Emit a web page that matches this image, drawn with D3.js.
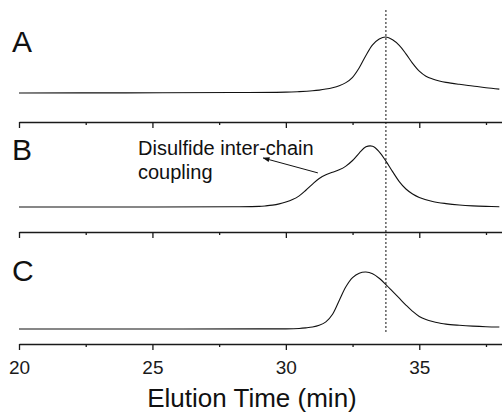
<!DOCTYPE html>
<html lang="en">
<head>
<meta charset="UTF-8">
<title>Elution profiles</title>
<script src="https://d3js.org/d3.v7.min.js"></script>
<style>
  body { margin: 0; background: #fff; }
  svg { display: block; font-family: "Liberation Sans", Arial, sans-serif; }
  .axis path, .axis line { stroke: #1a1a1a; stroke-width: 1.3px; }
  .axis text { font-size: 19px; fill: #1a1a1a; }
  .trace { fill: none; stroke: #111; stroke-width: 1.1px; }
</style>
</head>
<body>
<div id="chart"></div>
<script>
// elution time (min) and normalised detector signal for each trace
const timeA = [20, 24, 28, 30, 30.5, 31, 31.25, 31.5, 31.75, 32, 32.25, 32.5, 32.75, 33, 33.25, 33.5, 33.75,
  34, 34.25, 34.5, 34.75, 35, 35.25, 35.5, 35.75, 36, 36.5, 37, 37.5, 38];
const signalA = [0, 0.003, 0.008, 0.015, 0.025, 0.04, 0.052, 0.07, 0.095, 0.13, 0.185, 0.28, 0.45, 0.67, 0.86, 0.965, 1.0,
  0.95, 0.85, 0.70, 0.53, 0.39, 0.30, 0.25, 0.215, 0.19, 0.155, 0.125, 0.095, 0.07];

const timeB = [20, 25, 28, 29, 29.25, 29.5, 29.75, 30, 30.25, 30.5, 30.75, 31, 31.25, 31.5, 31.75, 32, 32.25, 32.5, 32.75,
  33, 33.25, 33.5, 33.75, 34, 34.25, 34.5, 34.75, 35, 35.5, 36, 36.5, 37, 37.5, 38];
const signalB = [0, 0, 0.004, 0.01, 0.018, 0.03, 0.05, 0.08, 0.12, 0.18, 0.27, 0.37, 0.46, 0.52, 0.56, 0.6, 0.66, 0.75, 0.87,
  0.97, 0.98, 0.89, 0.74, 0.57, 0.41, 0.29, 0.21, 0.155, 0.09, 0.055, 0.032, 0.018, 0.01, 0.005];

const timeC = [20, 25, 29, 30, 30.5, 30.75, 31, 31.25, 31.5, 31.75, 32, 32.25, 32.5, 32.75, 33, 33.25, 33.5, 33.75,
  34, 34.25, 34.5, 34.75, 35, 35.25, 35.5, 35.75, 36, 36.5, 37, 37.5, 38];
const signalC = [0, 0, 0.002, 0.003, 0.01, 0.02, 0.035, 0.065, 0.125, 0.26, 0.5, 0.74, 0.9, 0.98, 1.0, 0.97, 0.89, 0.78,
  0.66, 0.54, 0.42, 0.31, 0.22, 0.165, 0.13, 0.105, 0.085, 0.065, 0.05, 0.04, 0.035];

const panelLabels = ['A', 'B', 'C'];
const majorTicks = [20, 25, 30, 35];
const minorTicks = [22.5, 27.5, 32.5, 37.5];
const markerTime = 33.75;
const annotationLines = ['Disulfide inter-chain', 'coupling'];
const annotationArrow = { from: [31.2, 0.55], to: [29.15, 0.79] }; // time, signal in panel B

const width = 502, height = 412;

const svg = d3.select('#chart').append('svg')
  .attr('width', width)
  .attr('height', height);

const x = d3.scaleLinear().domain([20, 38.1]).range([19, 502]);

// each panel: baseline pixel, peak pixel, axis pixel, label baseline
const panels = [
  { t: timeA, s: signalA, base: 93, top: 37, axis: 122, labelY: 52 },
  { t: timeB, s: signalB, base: 207, top: 145, axis: 232, labelY: 160 },
  { t: timeC, s: signalC, base: 329, top: 272, axis: 344, labelY: 281 }
];

svg.append('defs').append('marker')
  .attr('id', 'arrow')
  .attr('viewBox', '0 0 10 10')
  .attr('refX', 9).attr('refY', 5)
  .attr('markerWidth', 7).attr('markerHeight', 7)
  .attr('orient', 'auto')
  .append('path')
  .attr('d', 'M0,1.5 L10,5 L0,8.5 Z')
  .attr('fill', '#111');

panels.forEach((p, i) => {
  p.y = d3.scaleLinear().domain([0, 1]).range([p.base, p.top]);

  const line = d3.line()
    .x(d => x(d[0]))
    .y(d => p.y(d[1]))
    .curve(d3.curveCatmullRom.alpha(0.5));

  svg.append('path')
    .attr('class', 'trace')
    .attr('d', line(d3.zip(p.t, p.s)));

  // major ticks
  const ax = svg.append('g')
    .attr('class', 'axis')
    .attr('transform', `translate(0,${p.axis})`)
    .call(d3.axisBottom(x).tickValues(majorTicks).tickSize(6).tickSizeOuter(0)
      .tickFormat(i === panels.length - 1 ? d3.format('d') : ''));
  ax.selectAll('text').attr('y', 30).attr('dy', 0);

  // minor ticks
  svg.append('g')
    .attr('class', 'axis')
    .attr('transform', `translate(0,${p.axis})`)
    .call(d3.axisBottom(x).tickValues(minorTicks).tickSize(3).tickFormat(''))
    .select('.domain').remove();

  svg.append('text')
    .attr('x', 12)
    .attr('y', p.labelY)
    .style('font-size', '30px')
    .attr('fill', '#111')
    .text(panelLabels[i]);
});

// dotted reference line at peak A
svg.append('line')
  .attr('x1', x(markerTime)).attr('x2', x(markerTime))
  .attr('y1', 10).attr('y2', 333)
  .attr('stroke', '#111')
  .attr('stroke-width', 1)
  .attr('stroke-dasharray', '2,2');

// annotation in panel B
const pB = panels[1];
svg.append('line')
  .attr('x1', x(annotationArrow.from[0])).attr('y1', pB.y(annotationArrow.from[1]))
  .attr('x2', x(annotationArrow.to[0])).attr('y2', pB.y(annotationArrow.to[1]))
  .attr('stroke', '#111')
  .attr('stroke-width', 1)
  .attr('marker-end', 'url(#arrow)');

svg.append('text')
  .attr('x', 138)
  .attr('y', 155)
  .style('font-size', '20px')
  .attr('fill', '#111')
  .selectAll('tspan')
  .data(annotationLines)
  .enter().append('tspan')
  .attr('x', 138)
  .attr('dy', (d, i) => i === 0 ? 0 : 24)
  .text(d => d);

// x axis title
svg.append('text')
  .attr('x', 252)
  .attr('y', 407)
  .attr('text-anchor', 'middle')
  .style('font-size', '26px')
  .attr('fill', '#111')
  .text('Elution Time (min)');
</script>
</body>
</html>
